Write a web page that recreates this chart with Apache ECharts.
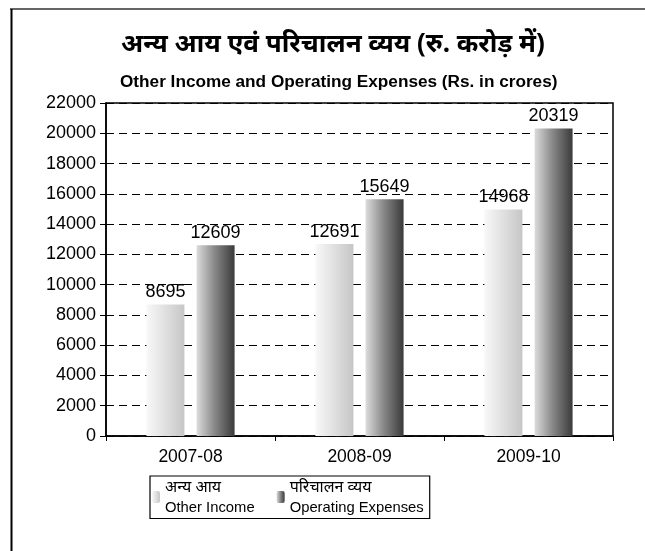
<!DOCTYPE html>
<html>
<head>
<meta charset="utf-8">
<script src="https://cdn.jsdelivr.net/npm/echarts@6/dist/echarts.min.js"></script>
<style>
html,body{margin:0;padding:0;background:#fff;}
#c{width:645px;height:551px;}
</style>
</head>
<body>
<div id="c"></div>
<script>
var categories = ['2007-08', '2008-09', '2009-10'];
var otherIncome = [8695, 12691, 14968];
var operatingExpenses = [12609, 15649, 20319];
var seriesHi = ['अन्य आय', 'परिचालन व्यय'];
var seriesEn = ['Other Income', 'Operating Expenses'];
var titleHi = 'अन्य आय एवं परिचालन व्यय (रु. करोड़ में)';
var titleEn = 'Other Income and Operating Expenses (Rs. in crores)';

var seriesNames = [seriesHi[0] + '|' + seriesEn[0], seriesHi[1] + '|' + seriesEn[1]];
var FONT = '"Liberation Sans", Arial, sans-serif';
var HFONT = '"Noto Sans", "Noto Sans Devanagari", sans-serif';
var chart = echarts.init(document.getElementById('c'));
var lblStyle = {show: true, position: 'top', distance: 3, fontSize: 18, color: '#000', fontFamily: FONT};
chart.setOption({
  animation: false,
  backgroundColor: '#fff',
  title: [
    {text: titleHi, left: 116, top: 27,
     textStyle: {fontSize: 26, fontWeight: 'bold', color: '#000', fontFamily: HFONT}},
    {text: titleEn, left: 115, top: 69,
     textStyle: {fontSize: 17.2, fontWeight: 'bold', color: '#000', fontFamily: FONT}}
  ],
  graphic: [
    {type: 'line', shape: {x1: 10, y1: 9, x2: 645, y2: 9}, style: {stroke: '#333', lineWidth: 1.5}},
    {type: 'line', shape: {x1: 11.5, y1: 9, x2: 11.5, y2: 551}, style: {stroke: '#000', lineWidth: 2}}
  ],
  grid: {left: 106, right: 32, top: 103, bottom: 115, show: true, borderColor: '#000', borderWidth: 1.5, containLabel: false},
  legend: {
    left: 150, top: 476, orient: 'horizontal',
    padding: [3, 6, 3, 2], itemGap: 22, itemWidth: 8, itemHeight: 12,
    borderColor: '#000', borderWidth: 1.2,
    data: seriesNames,
    formatter: function (n) {
      var p = n.split('|');
      return '{hi|' + p[0] + '}\n{en|' + p[1] + '}';
    },
    textStyle: {
      color: '#000',
      rich: {
        hi: {fontSize: 16, fontFamily: HFONT, color: '#000', lineHeight: 22},
        en: {fontSize: 14.8, fontFamily: FONT, color: '#000', lineHeight: 20}
      }
    }
  },
  xAxis: {
    type: 'category', data: categories,
    axisLine: {lineStyle: {color: '#000', width: 1.5}},
    axisTick: {show: true, alignWithLabel: false, length: 5, lineStyle: {color: '#000'}},
    axisLabel: {fontSize: 17.5, color: '#000', margin: 12, fontFamily: FONT}
  },
  yAxis: {
    type: 'value', min: 0, max: 22000, interval: 2000,
    axisLine: {show: true, lineStyle: {color: '#000', width: 1.5}},
    axisTick: {show: true, length: 6, lineStyle: {color: '#000'}},
    axisLabel: {fontSize: 18, color: '#000', margin: 10, fontFamily: FONT,
      formatter: function (v) { return String(v); }},
    splitLine: {show: true, lineStyle: {color: '#000', type: [8, 5], width: 1}}
  },
  series: [
    {name: seriesNames[0], type: 'bar', data: otherIncome, barWidth: 38, barGap: '32%',
     itemStyle: {color: new echarts.graphic.LinearGradient(0, 0, 1, 0, [
       {offset: 0, color: '#f8f8f8'}, {offset: 0.45, color: '#e2e2e2'}, {offset: 1, color: '#c6c6c6'}])},
     label: lblStyle},
    {name: seriesNames[1], type: 'bar', data: operatingExpenses, barWidth: 38,
     itemStyle: {color: new echarts.graphic.LinearGradient(0, 0, 1, 0, [
       {offset: 0, color: '#dcdcdc'}, {offset: 0.45, color: '#8c8c8c'}, {offset: 1, color: '#3a3a3a'}])},
     label: lblStyle}
  ]
});
</script>
</body>
</html>
